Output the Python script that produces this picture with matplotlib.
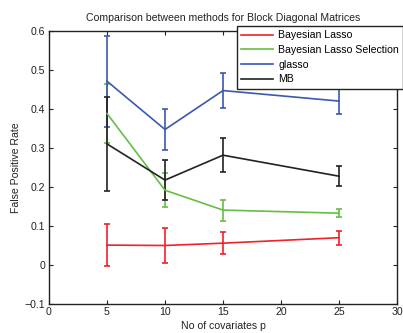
import numpy as np
import matplotlib
matplotlib.use("Agg")
import matplotlib.pyplot as plt

plt.rcParams['font.family'] = ['Liberation Sans', 'DejaVu Sans']

# covariate counts on the x axis
covariates = [5, 10, 15, 25]

# mean false positive rate and error half-width per method
bl_mean = [0.050, 0.049, 0.055, 0.069]
bl_err = [0.053, 0.044, 0.028, 0.018]

bls_mean = [0.388, 0.191, 0.140, 0.132]
bls_err = [0.075, 0.044, 0.027, 0.010]

glasso_mean = [0.471, 0.347, 0.447, 0.420]
glasso_err = [0.117, 0.053, 0.046, 0.032]

mb_mean = [0.310, 0.217, 0.281, 0.227]
mb_err = [0.120, 0.052, 0.044, 0.025]

labels = ["Bayesian Lasso", "Bayesian Lasso Selection", "glasso", "MB"]
colors = ["#f0212b", "#66bd45", "#3a58ad", "#222222"]

fs = 7.6

fig = plt.figure(figsize=(4.03, 3.33), dpi=100)
ax = fig.add_axes([49 / 403, 29.5 / 333, 348 / 403, 272.5 / 333])

series = [(bl_mean, bl_err), (bls_mean, bls_err),
          (glasso_mean, glasso_err), (mb_mean, mb_err)]
handles = []
for (mean, err), lab, col in zip(series, labels, colors):
    cont = ax.errorbar(covariates, mean, yerr=err, color=col, lw=1.2,
                       elinewidth=1.2, capsize=2, capthick=1.2, label=lab)
    handles.append(cont.lines[0])

ax.set_xlim(0, 30)
ax.set_ylim(-0.1, 0.6)
ax.set_xticks(np.arange(0, 31, 5))
ax.set_yticks([-0.1, 0, 0.1, 0.2, 0.3, 0.4, 0.5, 0.6])
ax.set_yticklabels(["\u22120.1", "0", "0.1", "0.2", "0.3", "0.4", "0.5", "0.6"])
ax.tick_params(direction='in', top=True, right=True, length=3, width=0.8,
               labelsize=fs, colors='#222222', pad=2.5)
for spine in ax.spines.values():
    spine.set_linewidth(1.0)
    spine.set_color('#222222')

ax.set_title("Comparison between methods for Block Diagonal Matrices",
             fontsize=fs, color='#222222', pad=7)
ax.set_xlabel("No of covariates p", fontsize=fs, color='#222222', labelpad=3)
ax.set_ylabel("False Positive Rate", fontsize=fs, color='#222222', labelpad=3)

leg = ax.legend(handles, labels, loc='upper left',
                bbox_to_anchor=(237 / 403, 1 - 26 / 333),
                bbox_transform=fig.transFigure, fontsize=fs, frameon=True,
                fancybox=False, framealpha=1, edgecolor='#222222',
                handlelength=3.0, handletextpad=0.5, labelspacing=0.45,
                borderpad=0.4, borderaxespad=0)
leg.get_frame().set_linewidth(1.0)

fig.savefig("out.png", dpi=100)
